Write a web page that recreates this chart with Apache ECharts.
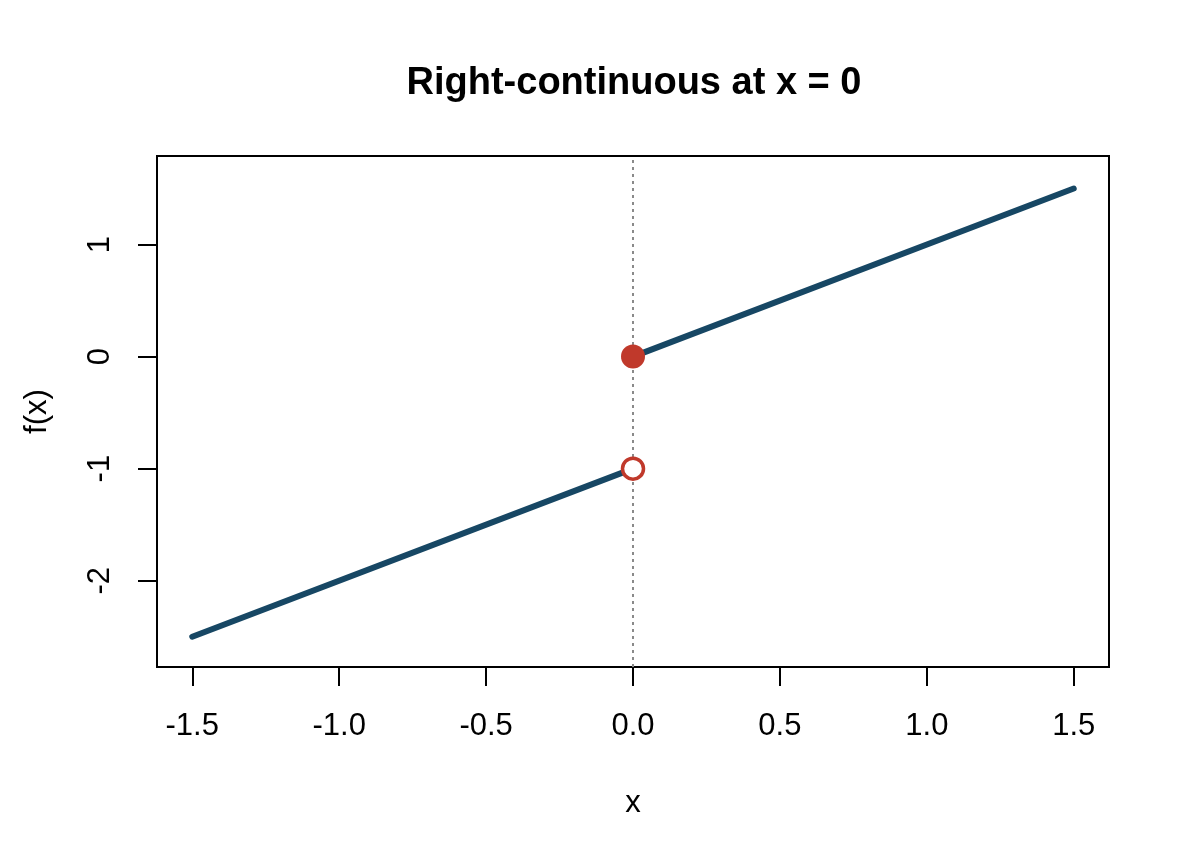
<!DOCTYPE html>
<html>
<head>
<meta charset="utf-8">
<script src="https://cdn.jsdelivr.net/npm/echarts@6/dist/echarts.min.js"></script>
<style>html,body{margin:0;padding:0;background:#fff}#c{width:1190px;height:864px}</style>
</head>
<body>
<div id="c"></div>
<script>
var xTicks = [-1.5, -1.0, -0.5, 0.0, 0.5, 1.0, 1.5];
var yTicks = [-2, -1, 0, 1];
var leftPiece = [[-1.5, -2.5], [0, -1]];
var rightPiece = [[0, 0], [1.5, 1.5]];
var closedPoint = [[0, 0]];
var openPoint = [[0, -1]];
var breakX = 0;

var chart = echarts.init(document.getElementById('c'));
var font = 'Liberation Sans, Arial, sans-serif';
chart.setOption({
  animation: false,
  backgroundColor: '#fff',
  title: {
    text: 'Right-continuous at x = 0',
    left: 629, top: 60, textAlign: 'center',
    textStyle: {fontFamily: font, fontSize: 38, fontWeight: 'bold', color: '#000'}
  },
  grid: {left: 157, right: 81, top: 156, bottom: 197, show: true,
         borderColor: '#000', borderWidth: 2, backgroundColor: 'transparent'},
  xAxis: {
    type: 'value', min: -1.62, max: 1.62,
    name: 'x', nameLocation: 'middle', nameGap: 121,
    nameTextStyle: {fontFamily: font, fontSize: 31, color: '#000'},
    axisLine: {show: false, onZero: false},
    splitLine: {show: false},
    axisTick: {show: true, inside: false, length: 19, customValues: xTicks,
               lineStyle: {color: '#000', width: 2}},
    axisLabel: {customValues: xTicks, margin: 44, fontFamily: font, fontSize: 31, color: '#000',
                formatter: function (v) { return v.toFixed(1); }}
  },
  yAxis: {
    type: 'value', min: -2.77, max: 1.79,
    name: 'f(x)', nameLocation: 'middle', nameGap: 104, nameRotate: 90,
    nameTextStyle: {fontFamily: font, fontSize: 31, color: '#000'},
    axisLine: {show: false, onZero: false},
    splitLine: {show: false},
    axisTick: {show: true, inside: false, length: 19, customValues: yTicks,
               lineStyle: {color: '#000', width: 2}},
    axisLabel: {customValues: yTicks, rotate: 90, margin: 41, fontFamily: font, fontSize: 31, color: '#000',
                align: 'center', verticalAlign: 'bottom'}
  },
  series: [
    {
      type: 'line', data: leftPiece, symbol: 'none', silent: true,
      lineStyle: {color: '#174764', width: 6, cap: 'round'},
      markLine: {
        silent: true, symbol: 'none', label: {show: false},
        lineStyle: {color: '#8a8a8a', type: [3, 4], width: 2},
        data: [{xAxis: breakX}]
      }
    },
    {
      type: 'line', data: rightPiece, symbol: 'none', silent: true,
      lineStyle: {color: '#174764', width: 6, cap: 'round'}
    },
    {
      type: 'scatter', data: closedPoint, symbol: 'circle', symbolSize: 24,
      itemStyle: {color: '#c0392b', borderWidth: 0, opacity: 1}, z: 5
    },
    {
      type: 'scatter', data: openPoint, symbol: 'circle', symbolSize: 21,
      itemStyle: {color: '#ffffff', borderColor: '#c0392b', borderWidth: 3.5, opacity: 1}, z: 5
    }
  ]
});
</script>
</body>
</html>
